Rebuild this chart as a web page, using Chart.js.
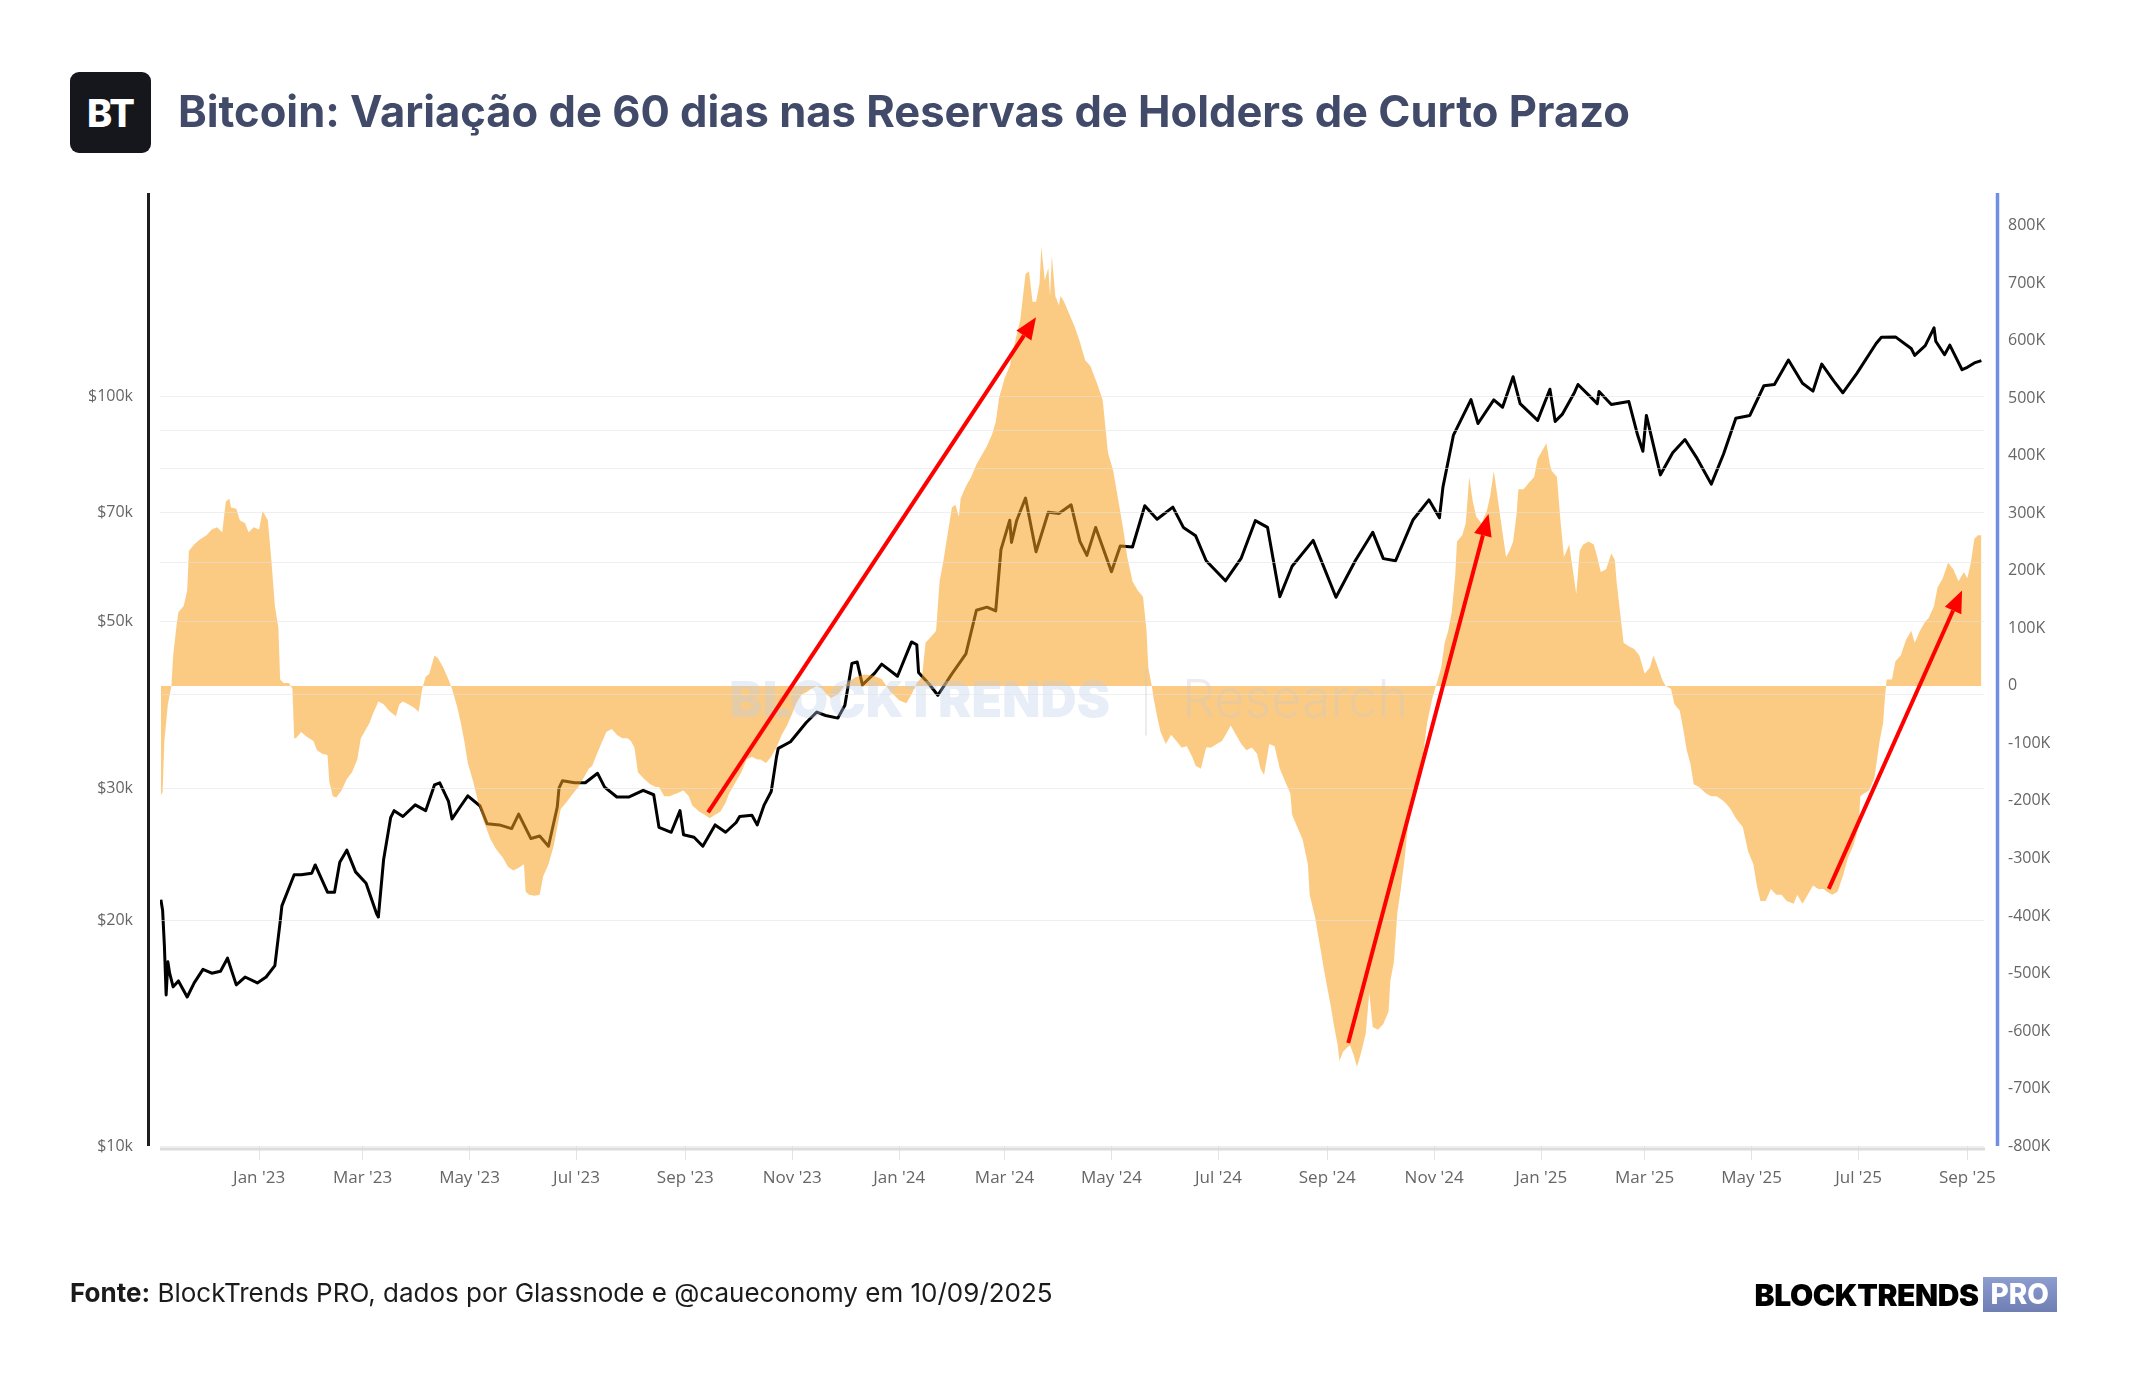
<!DOCTYPE html>
<html lang="pt-BR">
<head>
    <meta charset="UTF-8">
    <title>Bitcoin: Variação de 60 dias nas Reservas de Holders de Curto Prazo</title>
    <style>
        body {
            margin: 0;
            width: 2144px;
            height: 1400px;
            background: #fff;
            position: relative;
            overflow: hidden;
            font-family: Inter, "Noto Sans", sans-serif;
        }

        #chartCanvas {
            position: absolute;
            left: 0;
            top: 0;
        }

        .logo {
            position: absolute;
            left: 70px;
            top: 72px;
            width: 81px;
            height: 81px;
            border-radius: 9px;
            background: #16171c;
            color: #fff;
            font-weight: 800;
            font-size: 38px;
            letter-spacing: -1px;
            display: flex;
            align-items: center;
            justify-content: center;
        }

        .title {
            position: absolute;
            left: 178px;
            top: 85px;
            font-size: 43.5px;
            font-weight: 700;
            line-height: 52px;
            color: #414b69;
            white-space: nowrap;
        }

        .source {
            position: absolute;
            left: 70px;
            top: 1278px;
            font-size: 26px;
            line-height: 30px;
            color: #1b1b1b;
            white-space: nowrap;
        }

        .brand {
            position: absolute;
            right: 87px;
            top: 1277px;
            height: 35px;
            display: flex;
            align-items: center;
        }

        .brand .bt {
            font-weight: 900;
            font-size: 30px;
            letter-spacing: -0.4px;
            color: #000;
        }

        .brand .pro {
            margin-left: 4px;
            height: 35px;
            line-height: 35px;
            padding: 0 8px;
            background: linear-gradient(#8d9dd0, #6f7fb4);
            color: #fff;
            font-weight: 800;
            font-size: 28px;
        }
    </style>
</head>
<body>
    <canvas id="chartCanvas" width="2144" height="1400"></canvas>
    <div class="logo">BT</div>
    <div class="title">Bitcoin: Variação de 60 dias nas Reservas de Holders de Curto Prazo</div>
    <div class="source"><b>Fonte:</b> BlockTrends PRO, dados por Glassnode e @caueconomy em 10/09/2025</div>
    <div class="brand"><span class="bt">BLOCKTRENDS</span><span class="pro">PRO</span></div>

    <script src="https://cdn.jsdelivr.net/npm/chart.js"></script>
    <script>
        // x axis labels (every two months)
        const xTickDates = ['2023-01-01', '2023-03-01', '2023-05-01', '2023-07-01', '2023-09-01', '2023-11-01',
            '2024-01-01', '2024-03-01', '2024-05-01', '2024-07-01', '2024-09-01', '2024-11-01',
            '2025-01-01', '2025-03-01', '2025-05-01', '2025-07-01', '2025-09-01'];
        const xTickLabels = ["Jan '23", "Mar '23", "May '23", "Jul '23", "Sep '23", "Nov '23",
            "Jan '24", "Mar '24", "May '24", "Jul '24", "Sep '24", "Nov '24",
            "Jan '25", "Mar '25", "May '25", "Jul '25", "Sep '25"];

        // left (log) axis
        const priceGridValues = [10000, 20000, 30000, 40000, 50000, 60000, 70000, 80000, 90000, 100000];
        const priceLabelValues = [10000, 20000, 30000, 50000, 70000, 100000];
        const priceLabelTexts = ['$10k', '$20k', '$30k', '$50k', '$70k', '$100k'];

        // right axis
        const sthTickValues = [-800000, -700000, -600000, -500000, -400000, -300000, -200000, -100000, 0,
            100000, 200000, 300000, 400000, 500000, 600000, 700000, 800000];
        const sthTickLabels = ['-800K', '-700K', '-600K', '-500K', '-400K', '-300K', '-200K', '-100K', '0',
            '100K', '200K', '300K', '400K', '500K', '600K', '700K', '800K'];

        // BTC price (USD)
        const priceDates = [
            '2022-11-06', '2022-11-07', '2022-11-08', '2022-11-09', '2022-11-10', '2022-11-11', '2022-11-13', '2022-11-16',
            '2022-11-21', '2022-11-25', '2022-11-30', '2022-12-05', '2022-12-10', '2022-12-14', '2022-12-19', '2022-12-24',
            '2022-12-31', '2023-01-05', '2023-01-10', '2023-01-13', '2023-01-14', '2023-01-21', '2023-01-25', '2023-01-31',
            '2023-02-02', '2023-02-09', '2023-02-13', '2023-02-16', '2023-02-20', '2023-02-25', '2023-03-03', '2023-03-09',
            '2023-03-10', '2023-03-13', '2023-03-17', '2023-03-19', '2023-03-24', '2023-03-31', '2023-04-06', '2023-04-11',
            '2023-04-14', '2023-04-19', '2023-04-21', '2023-04-26', '2023-04-30', '2023-05-07', '2023-05-11', '2023-05-18',
            '2023-05-25', '2023-05-29', '2023-06-05', '2023-06-10', '2023-06-15', '2023-06-20', '2023-06-21', '2023-06-23',
            '2023-06-30', '2023-07-06', '2023-07-13', '2023-07-17', '2023-07-24', '2023-07-31', '2023-08-08', '2023-08-14',
            '2023-08-17', '2023-08-24', '2023-08-29', '2023-08-31', '2023-09-06', '2023-09-11', '2023-09-18', '2023-09-24',
            '2023-09-30', '2023-10-02', '2023-10-09', '2023-10-12', '2023-10-16', '2023-10-20', '2023-10-23', '2023-10-24',
            '2023-10-31', '2023-11-09', '2023-11-15', '2023-11-20', '2023-11-27', '2023-12-01', '2023-12-05', '2023-12-08',
            '2023-12-11', '2023-12-18', '2023-12-22', '2023-12-31', '2024-01-08', '2024-01-11', '2024-01-12', '2024-01-18',
            '2024-01-23', '2024-01-31', '2024-02-08', '2024-02-14', '2024-02-20', '2024-02-25', '2024-02-28', '2024-03-04',
            '2024-03-05', '2024-03-08', '2024-03-13', '2024-03-19', '2024-03-26', '2024-04-01', '2024-04-08', '2024-04-13',
            '2024-04-17', '2024-04-22', '2024-05-01', '2024-05-06', '2024-05-13', '2024-05-20', '2024-05-27', '2024-06-05',
            '2024-06-11', '2024-06-18', '2024-06-24', '2024-07-05', '2024-07-14', '2024-07-22', '2024-07-29', '2024-08-05',
            '2024-08-12', '2024-08-24', '2024-09-06', '2024-09-17', '2024-09-27', '2024-10-03', '2024-10-10', '2024-10-20',
            '2024-10-29', '2024-11-04', '2024-11-06', '2024-11-12', '2024-11-22', '2024-11-26', '2024-12-05', '2024-12-10',
            '2024-12-16', '2024-12-20', '2024-12-30', '2025-01-06', '2025-01-09', '2025-01-13', '2025-01-20', '2025-01-22',
            '2025-02-02', '2025-02-03', '2025-02-10', '2025-02-20', '2025-02-25', '2025-02-28', '2025-03-02', '2025-03-10',
            '2025-03-17', '2025-03-24', '2025-03-31', '2025-04-08', '2025-04-15', '2025-04-22', '2025-04-30', '2025-05-08',
            '2025-05-14', '2025-05-22', '2025-05-30', '2025-06-05', '2025-06-10', '2025-06-17', '2025-06-22', '2025-06-30',
            '2025-07-11', '2025-07-14', '2025-07-22', '2025-07-31', '2025-08-02', '2025-08-08', '2025-08-13', '2025-08-14',
            '2025-08-19', '2025-08-22', '2025-08-29', '2025-09-01', '2025-09-05', '2025-09-09'
        ];
        const priceValues = [
            21300, 20600, 18500, 15900, 17600, 17000, 16300, 16600,
            15800, 16500, 17200, 17000, 17100, 17800, 16400, 16800,
            16500, 16800, 17400, 19900, 20900, 23000, 23000, 23100,
            23700, 21800, 21800, 23900, 24800, 23200, 22400, 20400,
            20200, 24100, 27400, 28000, 27500, 28500, 28000, 30300,
            30500, 28800, 27300, 28400, 29300, 28400, 26900, 26800,
            26500, 27700, 25700, 25900, 25100, 28300, 30000, 30700,
            30500, 30500, 31400, 30100, 29200, 29200, 29800, 29400,
            26600, 26200, 28000, 26000, 25800, 25100, 26800, 26200,
            27000, 27500, 27600, 26800, 28500, 29700, 33000, 33900,
            34600, 36700, 37900, 37500, 37200, 38700, 44000, 44200,
            41200, 42700, 43900, 42300, 47000, 46600, 42800, 41300,
            39900, 42600, 45300, 51800, 52300, 51700, 62400, 68300,
            63800, 68300, 73100, 62000, 70000, 69700, 71600, 64000,
            61300, 66800, 58300, 63100, 62900, 71400, 68500, 71100,
            66800, 65100, 60300, 56700, 60800, 68200, 66800, 54000,
            59300, 64200, 53900, 60300, 65800, 60700, 60300, 68400,
            72700, 68800, 75600, 88700, 98900, 91900, 98800, 96600,
            106100, 97700, 92800, 102100, 92500, 94500, 101100, 103600,
            97700, 101400, 97400, 98300, 88700, 84400, 94200, 78500,
            84000, 87500, 82500, 76300, 83700, 93400, 94200, 103200,
            103600, 111700, 104000, 101500, 110300, 104600, 101000, 107200,
            117500, 119800, 119900, 115700, 113300, 116700, 123300, 118300,
            113500, 116900, 108400, 109200, 110700, 111500
        ];

        // Short-term holder supply, 60-day change (BTC)
        const sthDates = [
            '2022-11-06', '2022-11-07', '2022-11-08', '2022-11-10', '2022-11-12', '2022-11-13', '2022-11-15', '2022-11-16',
            '2022-11-19', '2022-11-21', '2022-11-22', '2022-11-25', '2022-11-28', '2022-12-02', '2022-12-05', '2022-12-08',
            '2022-12-11', '2022-12-13', '2022-12-15', '2022-12-16', '2022-12-19', '2022-12-21', '2022-12-24', '2022-12-26',
            '2022-12-29', '2023-01-01', '2023-01-03', '2023-01-06', '2023-01-08', '2023-01-10', '2023-01-12', '2023-01-13',
            '2023-01-15', '2023-01-18', '2023-01-20', '2023-01-21', '2023-01-22', '2023-01-25', '2023-01-28', '2023-02-01',
            '2023-02-03', '2023-02-06', '2023-02-09', '2023-02-10', '2023-02-12', '2023-02-14', '2023-02-17', '2023-02-20',
            '2023-02-23', '2023-02-26', '2023-02-28', '2023-03-03', '2023-03-05', '2023-03-07', '2023-03-10', '2023-03-13',
            '2023-03-16', '2023-03-18', '2023-03-20', '2023-03-22', '2023-03-24', '2023-03-27', '2023-03-30', '2023-04-02',
            '2023-04-04', '2023-04-06', '2023-04-08', '2023-04-11', '2023-04-13', '2023-04-16', '2023-04-19', '2023-04-21',
            '2023-04-24', '2023-04-26', '2023-04-28', '2023-04-30', '2023-05-03', '2023-05-06', '2023-05-09', '2023-05-13',
            '2023-05-16', '2023-05-20', '2023-05-23', '2023-05-26', '2023-05-29', '2023-06-01', '2023-06-02', '2023-06-04',
            '2023-06-07', '2023-06-10', '2023-06-12', '2023-06-15', '2023-06-18', '2023-06-20', '2023-06-22', '2023-06-25',
            '2023-06-29', '2023-07-02', '2023-07-05', '2023-07-08', '2023-07-10', '2023-07-12', '2023-07-15', '2023-07-18',
            '2023-07-21', '2023-07-24', '2023-07-27', '2023-07-30', '2023-08-01', '2023-08-03', '2023-08-05', '2023-08-08',
            '2023-08-12', '2023-08-15', '2023-08-17', '2023-08-20', '2023-08-23', '2023-08-27', '2023-08-31', '2023-09-03',
            '2023-09-05', '2023-09-09', '2023-09-12', '2023-09-15', '2023-09-18', '2023-09-21', '2023-09-24', '2023-09-26',
            '2023-09-30', '2023-10-03', '2023-10-06', '2023-10-09', '2023-10-12', '2023-10-14', '2023-10-17', '2023-10-20',
            '2023-10-23', '2023-10-26', '2023-10-29', '2023-11-01', '2023-11-03', '2023-11-06', '2023-11-09', '2023-11-12',
            '2023-11-15', '2023-11-18', '2023-11-21', '2023-11-23', '2023-11-27', '2023-12-02', '2023-12-07', '2023-12-12',
            '2023-12-17', '2023-12-22', '2023-12-27', '2024-01-01', '2024-01-05', '2024-01-08', '2024-01-11', '2024-01-14',
            '2024-01-16', '2024-01-19', '2024-01-22', '2024-01-24', '2024-01-26', '2024-01-29', '2024-01-31', '2024-02-02',
            '2024-02-04', '2024-02-05', '2024-02-08', '2024-02-11', '2024-02-14', '2024-02-17', '2024-02-20', '2024-02-23',
            '2024-02-25', '2024-02-27', '2024-03-01', '2024-03-04', '2024-03-07', '2024-03-10', '2024-03-12', '2024-03-13',
            '2024-03-15', '2024-03-17', '2024-03-19', '2024-03-21', '2024-03-22', '2024-03-24', '2024-03-26', '2024-03-27',
            '2024-03-28', '2024-03-30', '2024-04-01', '2024-04-02', '2024-04-04', '2024-04-07', '2024-04-10', '2024-04-13',
            '2024-04-16', '2024-04-19', '2024-04-21', '2024-04-23', '2024-04-26', '2024-04-29', '2024-05-02', '2024-05-05',
            '2024-05-08', '2024-05-10', '2024-05-13', '2024-05-16', '2024-05-19', '2024-05-21', '2024-05-22', '2024-05-24',
            '2024-05-25', '2024-05-27', '2024-05-29', '2024-06-01', '2024-06-04', '2024-06-07', '2024-06-10', '2024-06-13',
            '2024-06-16', '2024-06-18', '2024-06-21', '2024-06-24', '2024-06-27', '2024-06-30', '2024-07-03', '2024-07-06',
            '2024-07-08', '2024-07-11', '2024-07-14', '2024-07-17', '2024-07-20', '2024-07-23', '2024-07-25', '2024-07-27',
            '2024-07-30', '2024-08-02', '2024-08-05', '2024-08-08', '2024-08-11', '2024-08-12', '2024-08-15', '2024-08-18',
            '2024-08-21', '2024-08-22', '2024-08-25', '2024-08-28', '2024-08-30', '2024-09-01', '2024-09-03', '2024-09-05',
            '2024-09-07', '2024-09-08', '2024-09-10', '2024-09-12', '2024-09-14', '2024-09-16', '2024-09-18', '2024-09-19',
            '2024-09-21', '2024-09-23', '2024-09-25', '2024-09-27', '2024-09-30', '2024-10-03', '2024-10-06', '2024-10-07',
            '2024-10-09', '2024-10-11', '2024-10-13', '2024-10-15', '2024-10-17', '2024-10-20', '2024-10-23', '2024-10-26',
            '2024-10-28', '2024-10-31', '2024-11-02', '2024-11-05', '2024-11-07', '2024-11-09', '2024-11-11', '2024-11-13',
            '2024-11-14', '2024-11-17', '2024-11-19', '2024-11-21', '2024-11-23', '2024-11-25', '2024-11-28', '2024-12-01',
            '2024-12-03', '2024-12-05', '2024-12-07', '2024-12-09', '2024-12-12', '2024-12-14', '2024-12-16', '2024-12-18',
            '2024-12-19', '2024-12-22', '2024-12-25', '2024-12-28', '2024-12-30', '2025-01-01', '2025-01-04', '2025-01-06',
            '2025-01-07', '2025-01-10', '2025-01-12', '2025-01-14', '2025-01-17', '2025-01-19', '2025-01-21', '2025-01-23',
            '2025-01-25', '2025-01-28', '2025-01-31', '2025-02-02', '2025-02-04', '2025-02-07', '2025-02-10', '2025-02-12',
            '2025-02-13', '2025-02-15', '2025-02-17', '2025-02-20', '2025-02-23', '2025-02-26', '2025-03-01', '2025-03-04',
            '2025-03-06', '2025-03-08', '2025-03-11', '2025-03-13', '2025-03-16', '2025-03-18', '2025-03-21', '2025-03-23',
            '2025-03-25', '2025-03-27', '2025-03-29', '2025-04-01', '2025-04-05', '2025-04-08', '2025-04-11', '2025-04-14',
            '2025-04-16', '2025-04-19', '2025-04-22', '2025-04-26', '2025-04-29', '2025-05-02', '2025-05-04', '2025-05-06',
            '2025-05-09', '2025-05-12', '2025-05-15', '2025-05-18', '2025-05-21', '2025-05-25', '2025-05-27', '2025-05-30',
            '2025-06-02', '2025-06-05', '2025-06-08', '2025-06-11', '2025-06-13', '2025-06-16', '2025-06-19', '2025-06-22',
            '2025-06-25', '2025-06-28', '2025-07-01', '2025-07-02', '2025-07-04', '2025-07-07', '2025-07-10', '2025-07-13',
            '2025-07-15', '2025-07-16', '2025-07-17', '2025-07-20', '2025-07-22', '2025-07-25', '2025-07-28', '2025-07-31',
            '2025-08-02', '2025-08-05', '2025-08-08', '2025-08-10', '2025-08-13', '2025-08-15', '2025-08-18', '2025-08-21',
            '2025-08-24', '2025-08-27', '2025-08-30', '2025-09-01', '2025-09-03', '2025-09-05', '2025-09-07', '2025-09-09'
        ];
        const sthValues = [
            -190000, -185000, -96000, -32000, 0, 53000, 107000, 128000,
            139000, 166000, 235000, 246000, 254000, 262000, 272000, 276000,
            267000, 320000, 326000, 310000, 308000, 288000, 283000, 267000,
            276000, 272000, 304000, 288000, 219000, 139000, 101000, 11000,
            5000, 5000, -5000, -91000, -91000, -80000, -88000, -96000,
            -112000, -118000, -120000, -166000, -192000, -194000, -182000, -162000,
            -150000, -128000, -91000, -75000, -64000, -48000, -27000, -32000,
            -43000, -48000, -53000, -32000, -27000, -32000, -37000, -45000,
            -5000, 16000, 21000, 53000, 48000, 32000, 11000, -5000,
            -37000, -64000, -96000, -134000, -166000, -203000, -235000, -267000,
            -283000, -299000, -315000, -321000, -316000, -310000, -358000, -363000,
            -365000, -363000, -331000, -310000, -278000, -246000, -214000, -203000,
            -187000, -176000, -160000, -144000, -139000, -123000, -101000, -80000,
            -75000, -85000, -91000, -91000, -96000, -107000, -150000, -160000,
            -171000, -176000, -176000, -192000, -192000, -187000, -182000, -192000,
            -208000, -219000, -224000, -230000, -224000, -219000, -203000, -187000,
            -166000, -150000, -128000, -123000, -128000, -128000, -134000, -123000,
            -107000, -85000, -69000, -48000, -32000, -16000, -11000, -5000,
            0, -5000, -16000, -21000, -15000, 5000, 15000, 20000,
            18000, 12000, -10000, -25000, -30000, -15000, 5000, 16000,
            75000, 85000, 96000, 182000, 214000, 272000, 310000, 315000,
            294000, 326000, 347000, 363000, 385000, 401000, 417000, 438000,
            459000, 502000, 534000, 556000, 598000, 636000, 689000, 716000,
            721000, 668000, 668000, 700000, 764000, 705000, 727000, 678000,
            748000, 678000, 662000, 678000, 668000, 646000, 625000, 598000,
            566000, 556000, 540000, 524000, 497000, 406000, 374000, 321000,
            267000, 224000, 182000, 166000, 155000, 96000, 32000, 0,
            -21000, -53000, -80000, -101000, -85000, -96000, -107000, -105000,
            -123000, -139000, -144000, -107000, -107000, -101000, -96000, -80000,
            -69000, -85000, -101000, -112000, -107000, -118000, -144000, -155000,
            -101000, -105000, -144000, -166000, -187000, -224000, -246000, -267000,
            -310000, -363000, -401000, -454000, -491000, -524000, -556000, -593000,
            -625000, -652000, -636000, -630000, -625000, -641000, -662000, -652000,
            -630000, -604000, -534000, -593000, -598000, -588000, -566000, -513000,
            -481000, -395000, -353000, -304000, -246000, -203000, -160000, -112000,
            -64000, -21000, 0, 32000, 75000, 96000, 128000, 192000,
            251000, 262000, 283000, 363000, 321000, 294000, 283000, 304000,
            331000, 374000, 331000, 288000, 224000, 235000, 251000, 299000,
            342000, 342000, 353000, 363000, 395000, 406000, 422000, 385000,
            374000, 363000, 288000, 224000, 246000, 203000, 160000, 235000,
            246000, 251000, 246000, 224000, 198000, 203000, 230000, 219000,
            182000, 128000, 75000, 69000, 64000, 53000, 21000, 32000,
            53000, 37000, 11000, 0, -5000, -32000, -43000, -75000,
            -112000, -134000, -171000, -176000, -187000, -192000, -192000, -198000,
            -203000, -214000, -230000, -246000, -288000, -310000, -347000, -374000,
            -374000, -353000, -363000, -363000, -374000, -379000, -363000, -379000,
            -363000, -347000, -353000, -353000, -358000, -363000, -358000, -331000,
            -299000, -278000, -246000, -192000, -187000, -182000, -160000, -96000,
            -64000, -21000, 11000, 11000, 43000, 53000, 80000, 96000,
            75000, 96000, 112000, 118000, 139000, 171000, 187000, 214000,
            203000, 182000, 198000, 187000, 214000, 256000, 262000, 262000
        ];

        // red arrows, in right-axis units
        const arrowStartDates = ['2023-09-14', '2024-09-13', '2025-06-14'];
        const arrowStartValues = [-220000, -621000, -353000];
        const arrowEndDates = ['2024-03-19', '2024-12-02', '2025-08-29'];
        const arrowEndValues = [641000, 299000, 166000];

        const epoch = Date.UTC(2023, 0, 1);
        function toDay(s) {
            const p = s.split('-');
            return (Date.UTC(+p[0], +p[1] - 1, +p[2]) - epoch) / 86400000;
        }

        const xTickDays = xTickDates.map(toDay);
        const priceData = priceDates.map((d, i) => ({ x: toDay(d), y: priceValues[i] }));
        const sthData = sthDates.map((d, i) => ({ x: toDay(d), y: sthValues[i] }));

        function drawArrow(ctx, x1, y1, x2, y2) {
            const ang = Math.atan2(y2 - y1, x2 - x1);
            const headLen = 22, headHalf = 9;
            const bx = x2 - headLen * Math.cos(ang);
            const by = y2 - headLen * Math.sin(ang);
            ctx.strokeStyle = '#ff0000';
            ctx.fillStyle = '#ff0000';
            ctx.lineWidth = 4;
            ctx.beginPath();
            ctx.moveTo(x1, y1);
            ctx.lineTo(bx, by);
            ctx.stroke();
            ctx.beginPath();
            ctx.moveTo(x2, y2);
            ctx.lineTo(bx + headHalf * Math.sin(ang), by - headHalf * Math.cos(ang));
            ctx.lineTo(bx - headHalf * Math.sin(ang), by + headHalf * Math.cos(ang));
            ctx.closePath();
            ctx.fill();
        }

        const decorPlugin = {
            id: 'decor',
            afterDatasetsDraw(chart) {
                // watermark
                const { ctx, chartArea: a } = chart;
                const cy = (a.top + a.bottom) / 2 + 32;
                const barX = (a.left + a.right) / 2 + 74;
                ctx.save();
                ctx.textBaseline = 'middle';
                ctx.font = '900 50px Inter';
                ctx.textAlign = 'right';
                ctx.fillStyle = 'rgba(190, 206, 232, 0.35)';
                ctx.fillText('BLOCKTRENDS', barX - 36, cy);
                ctx.font = '300 52px Inter';
                ctx.textAlign = 'left';
                ctx.fillStyle = 'rgba(200, 200, 200, 0.35)';
                ctx.fillText('Research', barX + 36, cy);
                ctx.fillRect(barX - 1, cy - 34, 2, 68);
                ctx.restore();
            },
            afterDraw(chart) {
                const { ctx, chartArea: a, scales } = chart;
                ctx.save();
                // axis lines
                ctx.lineWidth = 3;
                ctx.strokeStyle = '#dcdcdc';
                ctx.beginPath();
                ctx.moveTo(a.left, a.bottom + 3);
                ctx.lineTo(a.right + 1, a.bottom + 3);
                ctx.stroke();
                ctx.strokeStyle = '#1e1e1e';
                ctx.beginPath();
                ctx.moveTo(a.left - 11.5, a.top);
                ctx.lineTo(a.left - 11.5, a.bottom);
                ctx.stroke();
                ctx.lineWidth = 3.5;
                ctx.strokeStyle = '#6f8fe3';
                ctx.beginPath();
                ctx.moveTo(a.right + 13.5, a.top);
                ctx.lineTo(a.right + 13.5, a.bottom);
                ctx.stroke();
                // arrows
                const xs = scales.x, ys = scales.ySth;
                arrowStartDates.forEach((d, i) => {
                    drawArrow(ctx,
                        xs.getPixelForValue(toDay(d)), ys.getPixelForValue(arrowStartValues[i]),
                        xs.getPixelForValue(toDay(arrowEndDates[i])), ys.getPixelForValue(arrowEndValues[i]));
                });
                ctx.restore();
            }
        };

        new Chart(document.getElementById('chartCanvas'), {
            type: 'line',
            data: {
                datasets: [{
                    label: 'STH 60d change',
                    data: sthData,
                    yAxisID: 'ySth',
                    order: 0,
                    fill: 'origin',
                    backgroundColor: 'rgba(250, 160, 30, 0.55)',
                    borderColor: 'rgba(0, 0, 0, 0)',
                    borderWidth: 0,
                    pointRadius: 0,
                    tension: 0
                }, {
                    label: 'BTC',
                    data: priceData,
                    yAxisID: 'yPrice',
                    order: 1,
                    fill: false,
                    borderColor: '#000',
                    borderWidth: 3,
                    borderJoinStyle: 'round',
                    pointRadius: 0,
                    tension: 0
                }]
            },
            options: {
                responsive: false,
                animation: false,
                devicePixelRatio: 1,
                layout: { padding: { top: 193, left: 0, right: 0, bottom: 0 } },
                plugins: {
                    legend: { display: false },
                    tooltip: { enabled: false }
                },
                scales: {
                    x: {
                        type: 'linear',
                        min: toDay('2022-11-06') - 0.5,
                        max: toDay('2025-09-09') + 1.5,
                        afterBuildTicks: s => { s.ticks = xTickDays.map(v => ({ value: v })); },
                        afterFit: s => { s.height = 254; },
                        grid: { drawOnChartArea: false, drawTicks: true, tickLength: 14, tickColor: '#e3e3e3' },
                        border: { display: false },
                        ticks: {
                            autoSkip: false,
                            maxRotation: 0,
                            padding: 8,
                            color: '#666',
                            font: { family: 'Open Sans', size: 17 },
                            callback: v => { const i = xTickDays.indexOf(v); return i >= 0 ? xTickLabels[i] : ''; }
                        }
                    },
                    yPrice: {
                        type: 'logarithmic',
                        position: 'left',
                        min: 10000,
                        max: 186500,
                        afterBuildTicks: s => { s.ticks = priceGridValues.map(v => ({ value: v })); },
                        afterFit: s => { s.width = 160; },
                        grid: { color: 'rgba(225, 225, 225, 0.55)', lineWidth: 1, drawTicks: false, z: 1 },
                        border: { display: false },
                        ticks: {
                            padding: 27,
                            color: '#666',
                            font: { family: 'Open Sans', size: 16 },
                            callback: v => { const i = priceLabelValues.indexOf(v); return i >= 0 ? priceLabelTexts[i] : ''; }
                        }
                    },
                    ySth: {
                        type: 'linear',
                        position: 'right',
                        min: -800000,
                        max: 857000,
                        afterBuildTicks: s => { s.ticks = sthTickValues.map(v => ({ value: v })); },
                        afterFit: s => { s.width = 160; },
                        grid: { display: false, drawTicks: false },
                        border: { display: false },
                        ticks: {
                            padding: 24,
                            color: '#666',
                            font: { family: 'Open Sans', size: 16 },
                            callback: v => { const i = sthTickValues.indexOf(v); return i >= 0 ? sthTickLabels[i] : ''; }
                        }
                    }
                }
            },
            plugins: [decorPlugin]
        });
    </script>
</body>
</html>
